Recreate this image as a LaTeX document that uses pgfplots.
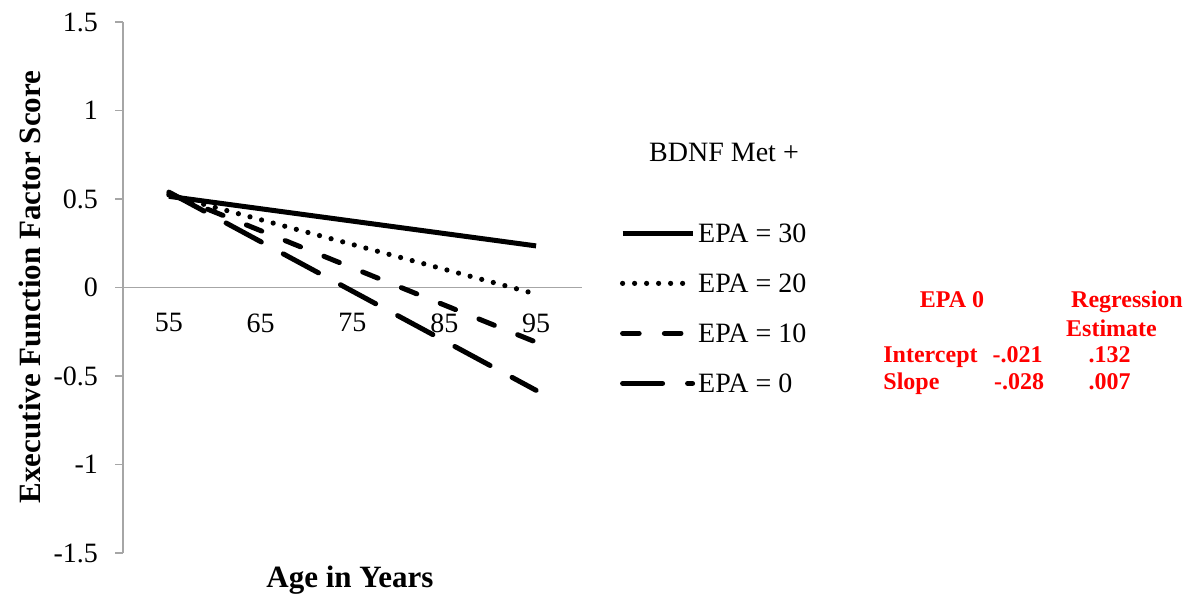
\documentclass[border=0pt]{standalone}
\usepackage{fontspec}
\setmainfont{Liberation Serif}
\usepackage{pgfplots}
\pgfplotsset{compat=1.18}
\definecolor{axisgray}{RGB}{166,166,166}
\definecolor{notered}{RGB}{255,0,0}

\begin{document}
\begin{tikzpicture}
\useasboundingbox (0,0) rectangle (599bp,298.5bp);
\begin{axis}[
  at={(61.5bp,22bp)}, anchor=south west,
  scale only axis, width=229.5bp, height=265.5bp,
  xmin=50, xmax=100, ymin=-1.5, ymax=1.5,
  axis y line*=left, axis x line*=middle,
  axis line style={axisgray, line width=0.8bp},
  xtick={55,65,75,85,95},
  xticklabels={55,65,75,85,95},
  ytick={-1.5,-1,-0.5,0,0.5,1,1.5},
  yticklabels={-1.5,-1,-0.5,0,0.5,1,1.5},
  x tick style={draw=none},
  y tick style={axisgray, line width=0.8bp},
  tick align=outside, major tick length=4bp,
  tick label style={font=\rmfamily\fontsize{14bp}{16bp}\selectfont},
  xticklabel style={yshift=-5.5bp},
  yticklabel style={xshift=-5bp},
  clip=false,
  legend style={
    at={(axis description cs:1.0828,0.6215)}, anchor=north west,
    draw=none, fill=none, inner sep=0pt, outer sep=0pt,
    row sep=12bp, column sep=1.5bp,
    font=\rmfamily\fontsize{14bp}{16bp}\selectfont,
    nodes={inner sep=0pt, text height=10bp, text depth=3bp},
    cells={anchor=base west},
  },
  legend image code/.code={\draw[#1] (0bp,4.8bp) -- (35bp,4.8bp);},
]
% EPA = 30
\addplot[black, line width=2.5bp] coordinates {(55,0.515) (95,0.235)};
\addlegendentry{EPA = 30}
% EPA = 20
\addplot[black, line width=2.6bp, line cap=round, dash pattern=on 0bp off 6bp]
  coordinates {(55,0.523) (95,-0.037)};
\addlegendentry{EPA = 20}
% EPA = 10
\addplot[black, line width=2.5bp, line cap=round, dash pattern=on 8.3bp off 12.6bp]
  coordinates {(55,0.531) (95,-0.309)};
\addlegendentry{EPA = 10}
% EPA = 0
\addplot[black, line width=2.5bp, line cap=round, dash pattern=on 20bp off 12.5bp]
  coordinates {(55,0.539) (95,-0.581)};
\addlegendentry{EPA = 0}
\end{axis}

% axis titles
\node[rotate=90, inner sep=0pt, font=\rmfamily\fontsize{15.5bp}{18bp}\selectfont\bfseries]
  at (15bp,155bp) {Executive Function Factor Score};
\node[anchor=base, inner sep=0pt, font=\rmfamily\fontsize{15.5bp}{18bp}\selectfont\bfseries]
  at (175bp,5bp) {Age in Years};

% legend title
\node[anchor=base, inner sep=0pt, font=\rmfamily\fontsize{14bp}{16bp}\selectfont]
  at (362bp,217.5bp) {BDNF Met +};

% regression estimates
\begin{scope}[every node/.style={inner sep=0pt, text=notered,
    font=\rmfamily\fontsize{12bp}{14bp}\selectfont\bfseries}]
  \node[anchor=base] at (476bp,144.5bp) {EPA 0};
  \node[anchor=base] at (563.5bp,144.5bp) {Regression};
  \node[anchor=base] at (555.75bp,130bp) {Estimate};
  \node[anchor=base west] at (441.5bp,117bp) {Intercept};
  \node[anchor=base] at (508.75bp,117bp) {-.021};
  \node[anchor=base] at (554.75bp,117bp) {.132};
  \node[anchor=base west] at (441.5bp,103.5bp) {Slope};
  \node[anchor=base] at (509.5bp,103.5bp) {-.028};
  \node[anchor=base] at (554.75bp,103.5bp) {.007};
\end{scope}
\end{tikzpicture}
\end{document}
